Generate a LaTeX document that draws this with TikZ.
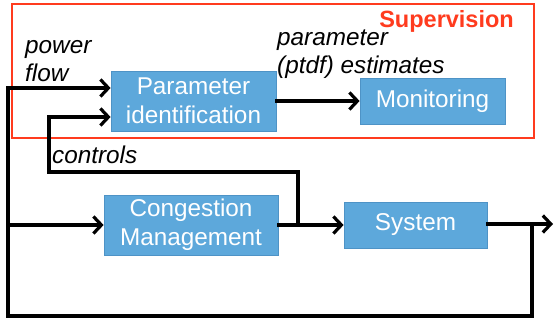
\documentclass[tikz,border=0pt]{standalone}
\usepackage{fontspec}
\setmainfont{Liberation Sans}
\usetikzlibrary{arrows.meta}
\definecolor{boxfill}{HTML}{5DA8DB}
\definecolor{boxedge}{HTML}{4E93C6}
\definecolor{supred}{HTML}{FF3B1E}
\tikzset{
  blk/.style={draw=boxedge, line width=0.8pt, fill=boxfill, text=white, align=center, inner sep=0pt, font=\fontsize{24.3}{29}\selectfont},
  wire/.style={line width=3.2pt, line cap=rect},
  arr/.style={wire, -{Straight Barb[length=8pt,width=17pt]}},
  lbl/.style={font=\fontsize{24.3}{28}\itshape\selectfont, inner sep=0pt, anchor=west, align=left}
}
\begin{document}
\begin{tikzpicture}[x=1pt,y=-1pt]
\useasboundingbox (0,0) rectangle (554,324);
% supervision frame
\node[draw=supred, line width=2.5pt, minimum width=522pt, minimum height=134pt, inner sep=0pt] (sup) at (273,71) {};
\node[text=supred, font=\fontsize{23.5}{28}\bfseries\selectfont, anchor=east, inner sep=0pt] (suplbl) at (514,21) {Supervision};
% blocks
\node[blk, minimum width=165pt, minimum height=60pt] (pi) at (193.5,101) {Parameter\\identification};
\node[blk, minimum width=145pt, minimum height=46pt] (mon) at (432.5,101) {Monitoring};
\node[blk, minimum width=174pt, minimum height=60pt] (cm) at (191,225) {Congestion\\Management};
\node[blk, minimum width=143pt, minimum height=46pt] (sys) at (415.5,225) {System};
% labels
\node[lbl] (pflbl) at (25,61) {power\\flow};
\node[lbl] (pelbl) at (277,54) {parameter\\(ptdf) estimates};
\node[lbl] (ctlbl) at (52,155) {controls};
% coordinates
\coordinate (out) at (553,224);
\coordinate (br) at (532,224);
\coordinate (bl) at (532,316);
\coordinate (bll) at (8,316);
\coordinate (tl) at (8,88);
\coordinate (ml) at (8,225);
\coordinate (cj) at (298,225);
\coordinate (ct) at (298,172);
\coordinate (cl) at (49,172);
\coordinate (cu) at (49,117);
% connectors
\draw[arr] (pi.east) -- (mon.west);
\draw[arr] (cm.east) -- (sys.west);
\draw[arr] (sys.east |- out) -- (out);
\draw[arr] (br) -- (bl) -- (bll) -- (tl) -- (tl -| pi.west);
\draw[arr] (ml) -- (cm.west);
\draw[arr] (cj) -- (ct) -- (cl) -- (cu) -- (cu -| pi.west);
\end{tikzpicture}
\end{document}
